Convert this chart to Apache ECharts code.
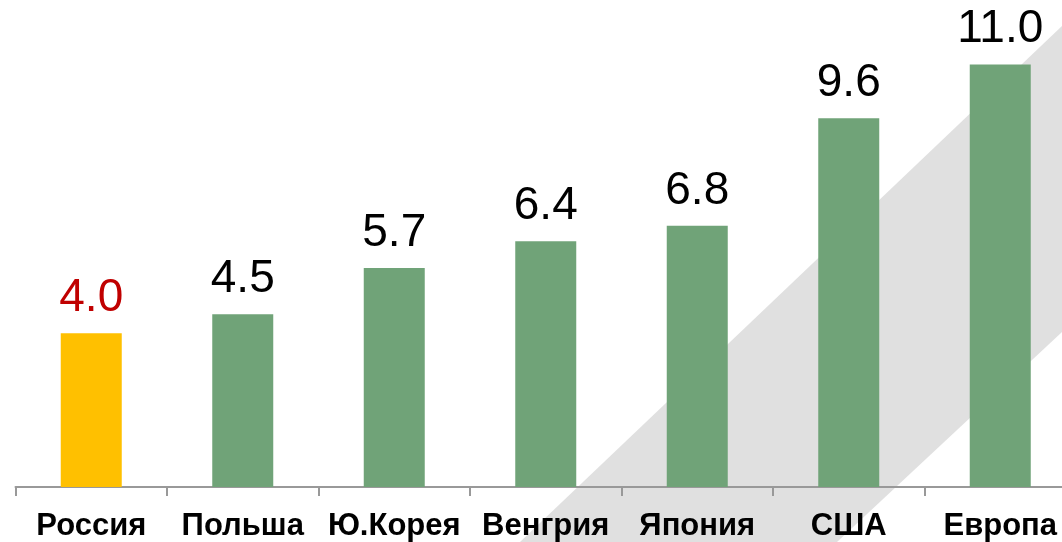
<!DOCTYPE html>
<html>
<head>
<meta charset="utf-8">
<script src="https://cdn.jsdelivr.net/npm/echarts@6/dist/echarts.min.js"></script>
<style>
html,body{margin:0;padding:0;background:#fff;overflow:hidden;width:1062px;height:542px;}
#chart{width:1080px;height:542px;}
</style>
</head>
<body>
<div id="chart"></div>
<script>
const categories = ['Россия', 'Польша', 'Ю.Корея', 'Венгрия', 'Япония', 'США', 'Европа'];
const values = [4.0, 4.5, 5.7, 6.4, 6.8, 9.6, 11.0];
const highlightIndex = 0;

const chart = echarts.init(document.getElementById('chart'), null, {renderer: 'canvas'});
const data = values.map((v, i) => ({
  value: v,
  itemStyle: { color: i === highlightIndex ? '#FFC000' : '#70A378' },
  label: { color: i === highlightIndex ? '#C00000' : '#000000' }
}));

chart.setOption({
  animation: false,
  backgroundColor: '#ffffff',
  graphic: [{
    type: 'polygon',
    z: -10,
    silent: true,
    shape: { points: [[520, 542], [1062, 26], [1062, 332], [837, 542]] },
    style: { fill: '#E0E0E0' }
  }],
  grid: { left: 15.5, top: 0, width: 1060.5, height: 487, containLabel: false },
  xAxis: {
    type: 'category',
    data: categories,
    axisLine: { show: true, lineStyle: { color: '#999999', width: 2 } },
    axisTick: { show: true, alignWithLabel: false, length: 9, lineStyle: { color: '#999999', width: 2 } },
    axisLabel: {
      interval: 0,
      margin: 24,
      fontFamily: 'Arial, "Liberation Sans", sans-serif',
      fontWeight: 'bold',
      fontSize: 31,
      color: '#000000'
    }
  },
  yAxis: {
    type: 'value',
    min: 0,
    max: 12.68,
    show: false,
    splitLine: { show: false }
  },
  series: [{
    type: 'bar',
    data: data,
    barWidth: 61,
    z: 2,
    label: {
      show: true,
      position: 'top',
      distance: 12,
      fontFamily: 'Arial, "Liberation Sans", sans-serif',
      fontSize: 46,
      formatter: p => p.value.toFixed(1)
    }
  }]
});
</script>
</body>
</html>
